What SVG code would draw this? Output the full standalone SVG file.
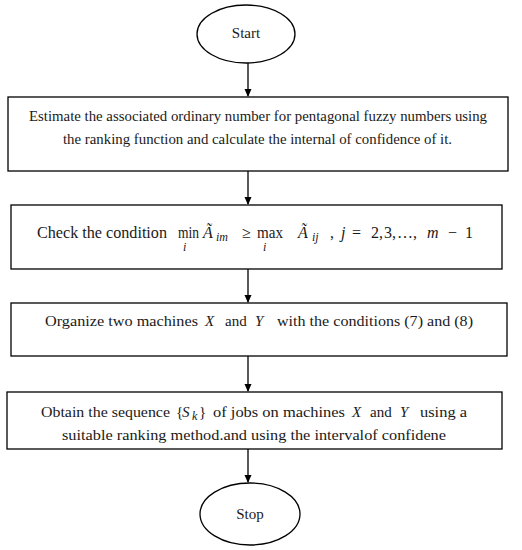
<svg xmlns="http://www.w3.org/2000/svg" width="522" height="550" viewBox="0 0 522 550">
<style>
.n{fill:#fff;stroke:#000;stroke-width:1.3}
.t{font-family:"Liberation Serif","Times New Roman",serif;font-size:15px;fill:#1a1a1a}
.m{font-size:16px}
.c{text-anchor:middle}
.i{font-style:italic}
.s{font-size:12px}
.e{stroke:#000;stroke-width:1.3;fill:none}
</style>
<defs>
<marker id="ah" markerWidth="8" markerHeight="10" refX="7" refY="5" orient="auto" markerUnits="userSpaceOnUse">
<path d="M0,1.5 L8,5 L0,8.5 Z" fill="#000"/>
</marker>
</defs>
<rect width="522" height="550" fill="#fff"/>
<g id="connectors">
<line class="e" x1="248" y1="63" x2="248" y2="96" marker-end="url(#ah)"/>
<line class="e" x1="248" y1="171" x2="248" y2="204" marker-end="url(#ah)"/>
<line class="e" x1="248" y1="269" x2="248" y2="302" marker-end="url(#ah)"/>
<line class="e" x1="248" y1="356" x2="248" y2="391" marker-end="url(#ah)"/>
<line class="e" x1="248" y1="449" x2="248" y2="482" marker-end="url(#ah)"/>
</g>
<g id="start">
<ellipse class="n" cx="246" cy="34" rx="49" ry="29"/>
<text class="t c" x="246" y="38">Start</text>
</g>
<g id="estimate">
<rect class="n" x="8" y="97" width="500" height="74"/>
<text class="t" x="29" y="121" textLength="458" lengthAdjust="spacingAndGlyphs">Estimate the associated ordinary number for pentagonal fuzzy numbers using</text>
<text class="t" x="63" y="144" textLength="389" lengthAdjust="spacingAndGlyphs">the ranking function and calculate the internal of confidence of it.</text>
</g>
<g id="check">
<rect class="n" x="11" y="205" width="491" height="64"/>
<text class="t m" x="37" y="238" textLength="130" lengthAdjust="spacingAndGlyphs">Check the condition</text>
<text class="t m" x="178" y="238" textLength="21" lengthAdjust="spacingAndGlyphs">min</text>
<text class="t m i" x="203" y="238">Ã</text>
<text class="t i s" x="216" y="241">im</text>
<text class="t m" x="242" y="238">≥</text>
<text class="t m" x="257" y="238" textLength="26" lengthAdjust="spacingAndGlyphs">max</text>
<text class="t m i" x="298" y="238">Ã</text>
<text class="t i s" x="312" y="241">ij</text>
<text class="t m" x="330" y="238">,</text>
<text class="t m i" x="341" y="238">j</text>
<text class="t m" x="352" y="238">=</text>
<text class="t m" x="371" y="238">2,</text>
<text class="t m" x="384" y="238">3,</text>
<text class="t m" x="397" y="238">…,</text>
<text class="t m i" x="427" y="238">m</text>
<text class="t m" x="448" y="238">−</text>
<text class="t m" x="465" y="238">1</text>
<text class="t i s" x="183" y="251">i</text>
<text class="t i s" x="263" y="251">i</text>
</g>
<g id="organize">
<rect class="n" x="11" y="303" width="496" height="53"/>
<text class="t" x="45" y="326" textLength="153" lengthAdjust="spacingAndGlyphs">Organize two machines</text>
<text class="t i" x="205" y="326">X</text>
<text class="t" x="225" y="326">and</text>
<text class="t i" x="255" y="326">Y</text>
<text class="t" x="277" y="326" textLength="196" lengthAdjust="spacingAndGlyphs">with the conditions (7) and (8)</text>
</g>
<g id="obtain">
<rect class="n" x="7" y="392" width="495" height="57"/>
<text class="t" x="41" y="417" textLength="129" lengthAdjust="spacingAndGlyphs">Obtain the sequence</text>
<text class="t" x="176" y="417">{</text>
<text class="t i" x="182" y="417">S</text>
<text class="t i s" x="192" y="420">k</text>
<text class="t" x="199" y="417">}</text>
<text class="t" x="213" y="417" textLength="132" lengthAdjust="spacingAndGlyphs">of jobs on machines</text>
<text class="t i" x="352" y="417">X</text>
<text class="t" x="370" y="417">and</text>
<text class="t i" x="400" y="417">Y</text>
<text class="t" x="420" y="417" textLength="47" lengthAdjust="spacingAndGlyphs">using a</text>
<text class="t" x="62" y="440" textLength="384" lengthAdjust="spacingAndGlyphs">suitable ranking method.and using the intervalof confidene</text>
</g>
<g id="stop">
<ellipse class="n" cx="250" cy="514" rx="50" ry="31"/>
<text class="t c" x="250" y="519">Stop</text>
</g>
</svg>
